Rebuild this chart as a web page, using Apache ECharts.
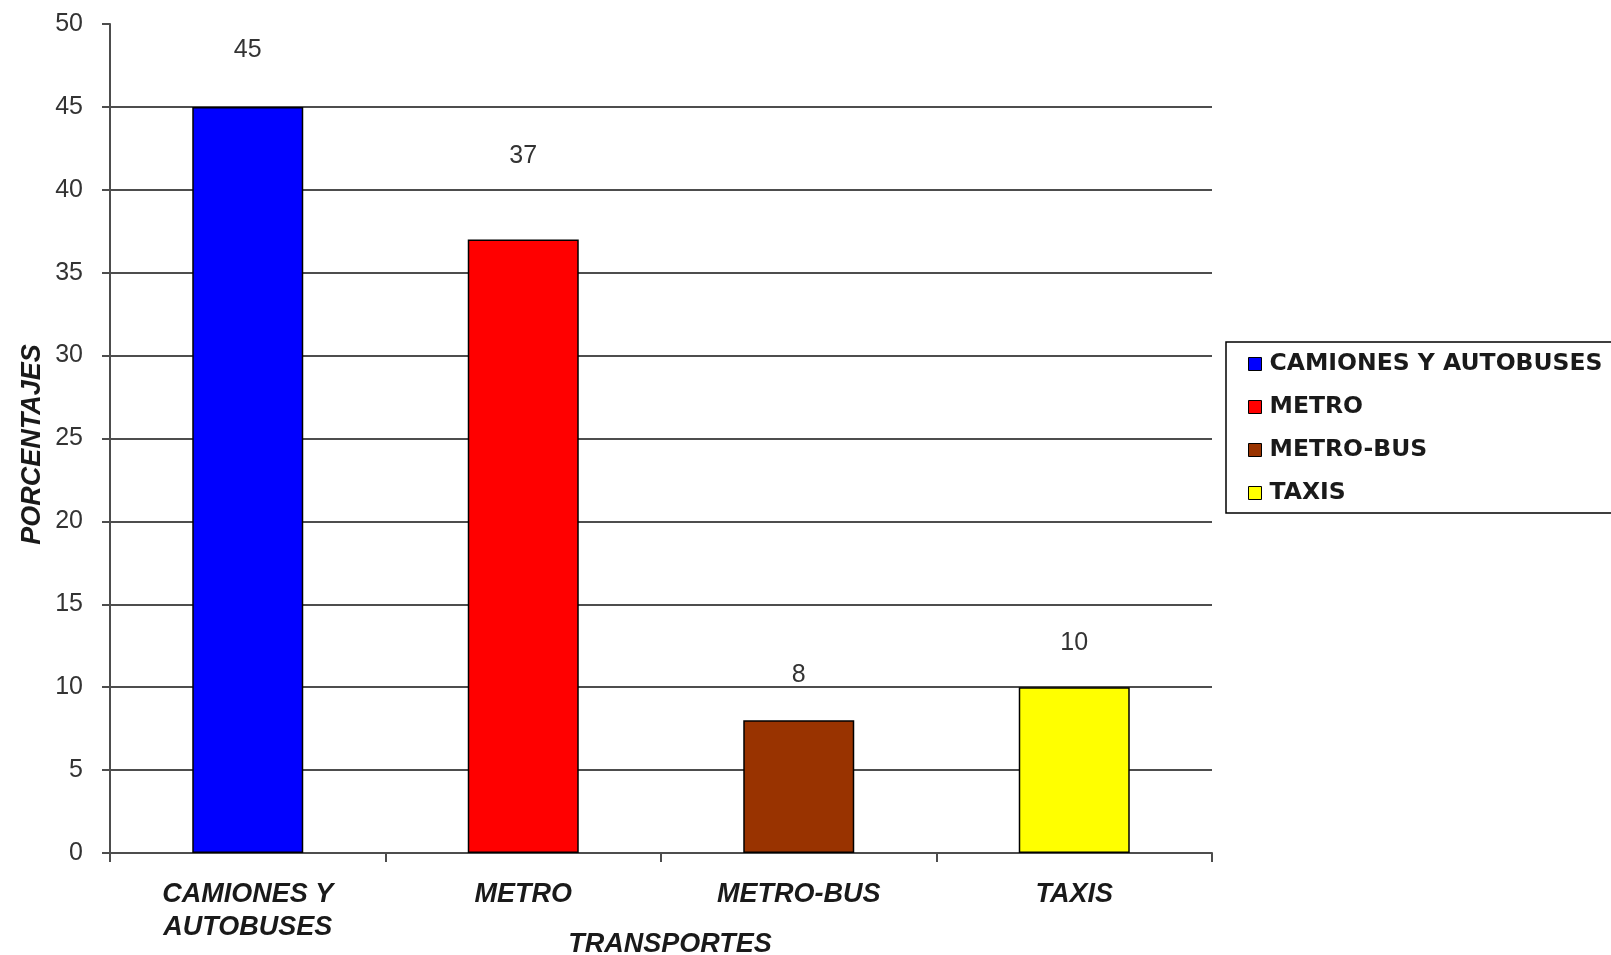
<!DOCTYPE html>
<html>
<head>
<meta charset="utf-8">
<title>Transportes</title>
<script src="https://cdn.jsdelivr.net/npm/echarts@6/dist/echarts.min.js"></script>
<style>
  html, body { margin: 0; padding: 0; background: #ffffff; }
  #chart { width: 1611px; height: 955px; }
</style>
</head>
<body>
<div id="chart"></div>
<script>
// Categories and percentages by means of transport
const categories = ['CAMIONES Y\nAUTOBUSES', 'METRO', 'METRO-BUS', 'TAXIS'];
const seriesNames = ['CAMIONES Y AUTOBUSES', 'METRO', 'METRO-BUS', 'TAXIS'];
const values = [45, 37, 8, 10];
const yTicks = [0, 5, 10, 15, 20, 25, 30, 35, 40, 45, 50];

const colors = ['#0000ff', '#ff0000', '#993300', '#ffff00'];
// gap between each bar top and its value label
const labelGaps = [44, 71, 33, 32];

const chart = echarts.init(document.getElementById('chart'));

// one series per transport so each one gets its own legend entry
const series = seriesNames.map(function (name, i) {
  return {
    name: name,
    type: 'bar',
    stack: 'all',
    barWidth: 111,
    data: categories.map(function (c, j) { return j === i ? values[i] : '-'; }),
    itemStyle: { color: colors[i], borderColor: '#000000', borderWidth: 1.5 },
    label: {
      show: true,
      position: 'top',
      distance: labelGaps[i],
      color: '#333333',
      fontFamily: 'Liberation Sans',
      fontSize: 25
    }
  };
});

chart.setOption({
  backgroundColor: '#ffffff',
  animation: false,
  color: colors,
  grid: {
    left: 110, top: 24, right: 399, bottom: 102,
    containLabel: false,
    outerBoundsMode: 'none'
  },
  legend: {
    orient: 'vertical',
    left: 1226,
    top: 342,
    data: seriesNames,
    icon: 'rect',
    itemWidth: 13,
    itemHeight: 13,
    itemGap: 19,
    padding: [10, 24, 8, 22],
    borderColor: '#000000',
    borderWidth: 1.5,
    itemStyle: { borderColor: '#000000', borderWidth: 1 },
    textStyle: {
      fontFamily: 'DejaVu Sans',
      fontWeight: 'bold',
      fontSize: 23.5,
      lineHeight: 24,
      color: '#1a1a1a',
      padding: [0, 0, 0, 3]
    }
  },
  xAxis: {
    type: 'category',
    data: categories,
    name: 'TRANSPORTES',
    nameLocation: 'middle',
    nameGap: 78,
    nameMoveOverlap: false,
    nameTextStyle: {
      fontFamily: 'Liberation Sans',
      fontWeight: 'bold',
      fontStyle: 'italic',
      fontSize: 27,
      color: '#1a1a1a',
      padding: [0, 0, 0, 18]
    },
    axisLine: { show: true, lineStyle: { color: '#4d4d4d', width: 2 } },
    axisTick: { show: true, length: 9, lineStyle: { color: '#4d4d4d', width: 2 } },
    axisLabel: {
      margin: 25,
      fontFamily: 'Liberation Sans',
      fontWeight: 'bold',
      fontStyle: 'italic',
      fontSize: 27,
      lineHeight: 33,
      color: '#1a1a1a'
    }
  },
  yAxis: {
    type: 'value',
    min: 0,
    max: 50,
    interval: 5,
    name: 'PORCENTAJES',
    nameLocation: 'middle',
    nameGap: 64,
    nameMoveOverlap: false,
    nameTextStyle: {
      fontFamily: 'Liberation Sans',
      fontWeight: 'bold',
      fontStyle: 'italic',
      fontSize: 27,
      color: '#1a1a1a',
      padding: [0, 12, 0, 0]
    },
    axisLine: { show: true, lineStyle: { color: '#4d4d4d', width: 2 } },
    axisTick: { show: true, length: 8, lineStyle: { color: '#4d4d4d', width: 2 } },
    axisLabel: {
      margin: 27,
      fontFamily: 'Liberation Sans',
      fontSize: 25,
      color: '#333333',
      formatter: function (v) { return yTicks.indexOf(v) >= 0 ? String(v) : ''; }
    },
    splitLine: {
      show: true,
      showMaxLine: false,
      lineStyle: { color: '#4d4d4d', width: 2 }
    }
  },
  series: series
});
</script>
</body>
</html>
